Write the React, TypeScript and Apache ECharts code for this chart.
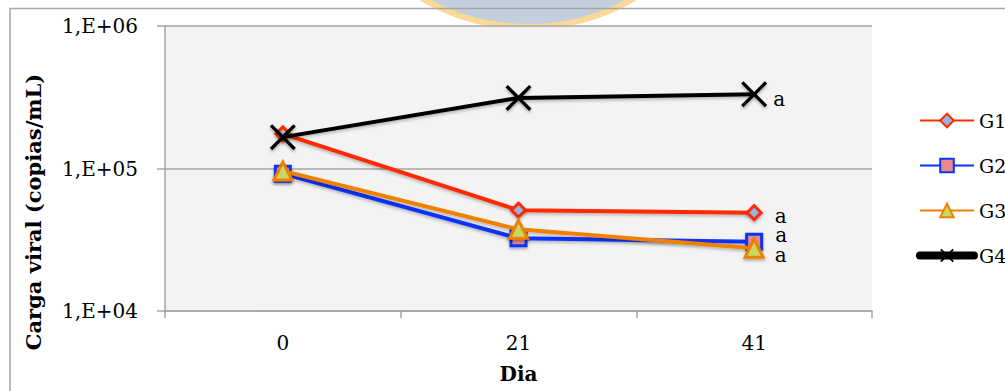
import React, { useEffect, useRef } from 'react';
import * as echarts from 'echarts';

const days = ['0', '21', '41'];
const seriesNames = ['G1', 'G2', 'G3', 'G4'];
const g1 = [175000, 51000, 49000];
const g2 = [92000, 32400, 30600];
const g3 = [96000, 37400, 27600];
const g4 = [166000, 313000, 332000];
const sigLetters = ['a', 'a', 'a', 'a'];
const yMin = 10000;
const yMax = 1000000;
const yTitle = 'Carga viral (copias/mL)';
const xTitle = 'Dia';

const FONT = "'DejaVu Serif', serif";

const lineColors = ['#ff2a00', '#0b33ff', '#f08000', '#000000'];
const fillColors = ['#8fb8e8', '#e88a8a', '#c8d864', '#000000'];
const XPATH = 'path://M0,9L9,0L50,41L91,0L100,9L59,50L100,91L91,100L50,59L9,100L0,91L41,50Z';
const symbols = ['diamond', 'rect', 'triangle', XPATH];
const symbolSizes = [14, 15, 18, 26];
const labelDist = [12, 12, 10, 6];
const labelOffsets: [number, number][] = [[0, 3], [0, -7], [0, 7], [0, 5]];
const allData = [g1, g2, g3, g4];

export default function App() {
  const ref = useRef<HTMLDivElement>(null);
  useEffect(() => {
    document.body.style.margin = '0';
    const chart = echarts.init(ref.current!, null, { renderer: 'svg' });
    const series = allData.map((vals, si) => ({
      name: seriesNames[si],
      type: 'line',
      symbol: symbols[si],
      symbolSize: symbolSizes[si],
      z: 2 + si,
      lineStyle: {
        color: lineColors[si],
        width: 4,
        shadowBlur: 3,
        shadowColor: 'rgba(0,0,0,0.25)',
        shadowOffsetY: 2,
      },
      itemStyle: si === 3
        ? { color: '#000', borderWidth: 0, shadowBlur: 3, shadowColor: 'rgba(0,0,0,0.3)', shadowOffsetY: 2 }
        : {
            color: fillColors[si],
            borderColor: lineColors[si],
            borderWidth: 3,
            shadowBlur: 3,
            shadowColor: 'rgba(0,0,0,0.3)',
            shadowOffsetY: 2,
          },
      data: vals.map((v, i) =>
        i === vals.length - 1
          ? {
              value: v,
              label: {
                show: true,
                position: 'right',
                distance: labelDist[si],
                offset: labelOffsets[si],
                formatter: sigLetters[si],
                fontFamily: FONT,
                fontSize: 20,
                lineHeight: 16,
                color: '#000',
              },
            }
          : v
      ),
    }));
    chart.setOption({
      animation: false,
      backgroundColor: 'transparent',
      graphic: [
        {
          type: 'circle',
          z: -100,
          shape: { cx: 528, cy: -183, r: 210 },
          style: { fill: '#c3cfdc', stroke: '#f9d898', lineWidth: 6 },
        },
        {
          type: 'rect',
          z: 100,
          shape: { x: 10, y: 8.5, width: 1100, height: 500 },
          style: { fill: 'none', stroke: '#a6a6a6', lineWidth: 1.5 },
        },
        {
          type: 'text',
          x: 33,
          y: 212,
          rotation: Math.PI / 2,
          style: {
            text: yTitle,
            fontFamily: FONT,
            fontSize: 21,
            fontWeight: 'bold',
            fill: '#000',
            align: 'center',
            verticalAlign: 'middle',
          },
        },
      ],
      grid: {
        left: 165,
        top: 26,
        right: 133,
        bottom: 80,
        show: true,
        backgroundColor: '#f3f3f3',
        borderWidth: 0,
        outerBoundsMode: 'none',
      },
      legend: {
        orient: 'vertical',
        left: 916,
        top: 111,
        padding: 0,
        itemWidth: 54,
        itemHeight: 17,
        itemGap: 26,
        textStyle: { fontFamily: FONT, fontSize: 19, color: '#000' },
        data: seriesNames.map((n, i) =>
          i === 3 ? { name: n, lineStyle: { width: 8, cap: 'round' } } : { name: n }
        ),
      },
      xAxis: {
        type: 'category',
        data: days,
        boundaryGap: true,
        name: xTitle,
        nameLocation: 'middle',
        nameGap: 53,
        nameTextStyle: { fontFamily: FONT, fontSize: 20, fontWeight: 'bold', color: '#000' },
        axisLine: { lineStyle: { color: '#a6a6a6', width: 1.5 } },
        axisTick: { show: true, length: 7, lineStyle: { color: '#a6a6a6', width: 1.5 } },
        axisLabel: { fontFamily: FONT, fontSize: 20, color: '#000', margin: 22 },
        splitLine: { show: false },
      },
      yAxis: {
        type: 'log',
        logBase: 10,
        min: yMin,
        max: yMax,
        axisLine: { show: true, lineStyle: { color: '#a6a6a6', width: 1.5 } },
        axisTick: { show: true, length: 8, lineStyle: { color: '#a6a6a6', width: 1.5 } },
        axisLabel: {
          fontFamily: FONT,
          fontSize: 20,
          color: '#000',
          margin: 27,
          formatter: (v: number) => '1,E+' + String(Math.round(Math.log10(v))).padStart(2, '0'),
        },
        splitLine: { show: true, lineStyle: { color: '#a6a6a6', width: 1.5 } },
        minorTick: { show: false },
      },
      series,
    });
    return () => chart.dispose();
  }, []);
  return <div ref={ref} style={{ width: 1005, height: 391 }} />;
}
